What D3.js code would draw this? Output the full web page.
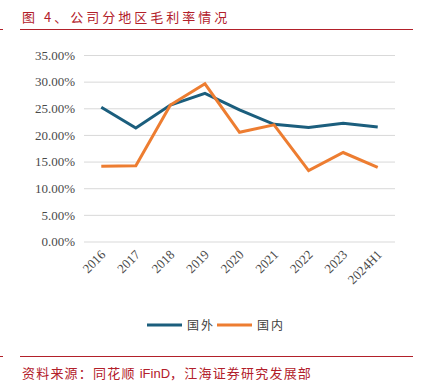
<!DOCTYPE html>
<html>
<head>
<meta charset="utf-8">
<script src="https://cdn.jsdelivr.net/npm/d3@7"></script>
<style>
  body { margin: 0; background: #fff; }
  svg { display: block; }
</style>
</head>
<body>
<div id="chart"></div>
<script>
// data
var years = ['2016', '2017', '2018', '2019', '2020', '2021', '2022', '2023', '2024H1'];
var guowai = [25.2, 21.3, 25.6, 27.8, 24.7, 22.0, 21.4, 22.2, 21.5];
var guonei = [14.1, 14.2, 25.6, 29.6, 20.5, 21.9, 13.3, 16.7, 13.9];
var yTicks = [0, 5, 10, 15, 20, 25, 30, 35];
var seriesNames = ['国外', '国内'];
var colors = ['#1b5e7d', '#ed7d31'];

var W = 423, H = 384;
var svg = d3.select('#chart').append('svg').attr('width', W).attr('height', H);

var red = '#b2202a';
var cjk = '"Noto Sans CJK SC", sans-serif';

// title
svg.append('text')
  .attr('x', 22).attr('y', 22)
  .attr('fill', red)
  .style('font-family', cjk)
  .style('font-size', '13px')
  .style('letter-spacing', '3px')
  .text('图 4、公司分地区毛利率情况');
svg.append('line').attr('x1', 20).attr('x2', 413).attr('y1', 29.5).attr('y2', 29.5)
  .attr('stroke', red).attr('stroke-width', 1);
svg.append('line').attr('x1', 0).attr('x2', 3).attr('y1', 29.5).attr('y2', 29.5)
  .attr('stroke', red).attr('stroke-width', 1);

// scales
var x = d3.scaleBand().domain(years).range([84, 395]);
var y = d3.scaleLinear().domain([0, 35]).range([241.5, 55]);

// grid + y labels
var yAxis = d3.axisLeft(y).tickValues(yTicks).tickSize(0).tickPadding(0)
  .tickFormat(function(d){ return d.toFixed(2) + '%'; });
var gy = svg.append('g').attr('transform', 'translate(75,0)').call(yAxis);
gy.select('.domain').remove();
gy.selectAll('text')
  .attr('fill', '#4a4a4a')
  .style('font-family', '"Liberation Serif", serif')
  .style('font-size', '13px');

svg.append('g').selectAll('line').data(yTicks).join('line')
  .attr('x1', 84).attr('x2', 395)
  .attr('y1', function(d){ return y(d) + 0.5; })
  .attr('y2', function(d){ return y(d) + 0.5; })
  .attr('stroke', '#d9d9d9').attr('stroke-width', 1);

// x labels
var xAxis = d3.axisBottom(x).tickSize(0).tickPadding(0);
var gx = svg.append('g').attr('transform', 'translate(0,' + y(0) + ')').call(xAxis);
gx.select('.domain').remove();
gx.selectAll('text')
  .attr('fill', '#4a4a4a')
  .style('font-family', '"Liberation Serif", serif')
  .style('font-size', '13px')
  .attr('text-anchor', 'end')
  .attr('dy', null)
  .attr('transform', 'translate(5,14) rotate(-45)');

// lines
var line = d3.line()
  .x(function(d, i){ return x(years[i]) + x.bandwidth() / 2; })
  .y(function(d){ return y(d); });

[guowai, guonei].forEach(function(s, k){
  svg.append('path').datum(s)
    .attr('d', line)
    .attr('fill', 'none')
    .attr('stroke', colors[k])
    .attr('stroke-width', 3)
    .attr('stroke-linejoin', 'miter');
});

// legend
var leg = svg.append('g');
var legX = [147, 217];
seriesNames.forEach(function(n, k){
  leg.append('line')
    .attr('x1', legX[k]).attr('x2', legX[k] + 35)
    .attr('y1', 325).attr('y2', 325)
    .attr('stroke', colors[k]).attr('stroke-width', 3);
  leg.append('text')
    .attr('x', legX[k] + 40).attr('y', 330)
    .attr('fill', '#404040')
    .style('font-family', cjk)
    .style('font-size', '12px')
    .style('letter-spacing', '2px')
    .text(n);
});

// footer
svg.append('line').attr('x1', 20).attr('x2', 413).attr('y1', 356.5).attr('y2', 356.5)
  .attr('stroke', red).attr('stroke-width', 1);
svg.append('line').attr('x1', 0).attr('x2', 3).attr('y1', 356.5).attr('y2', 356.5)
  .attr('stroke', red).attr('stroke-width', 1);
var foot = svg.append('text')
  .attr('x', 22).attr('y', 378)
  .attr('fill', red)
  .style('font-family', cjk)
  .style('font-size', '13px')
  .style('letter-spacing', '1.2px');
foot.append('tspan').text('资料来源：同花顺 ');
foot.append('tspan').style('font-family', '"Liberation Sans", Arial, sans-serif').style('letter-spacing', '0px').text('iFinD');
foot.append('tspan').text('，江海证券研究发展部');
</script>
</body>
</html>
